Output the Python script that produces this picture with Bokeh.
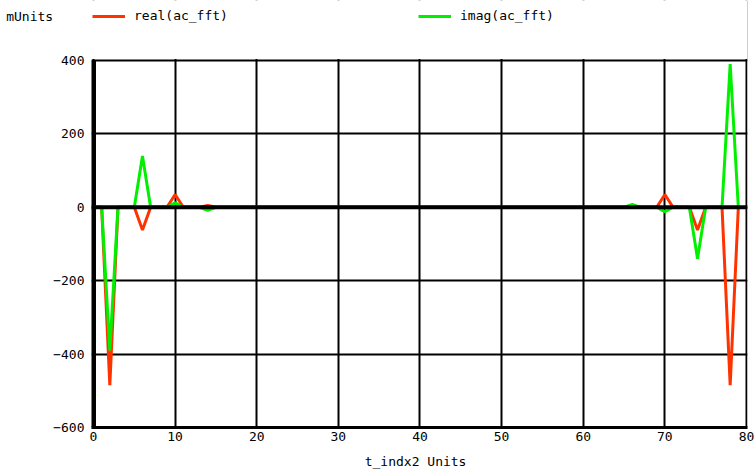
from bokeh.plotting import figure
from bokeh.models import FixedTicker, Span, Legend, LegendItem, BoxAnnotation
from bokeh.embed import file_html
from bokeh.resources import INLINE

# index 0..79
t_indx2 = list(range(80))
real_ac_fft = [0, 0, -485, 0, 0, 0, -62, 0, 0, 0,
               35, 0, 0, 0, 5, 0, 0, 0, 0, 0,
               0, 0, 0, 0, 0, 0, 0, 0, 0, 0,
               0, 0, 0, 0, 0, 0, 0, 0, 0, 0,
               0, 0, 0, 0, 0, 0, 0, 0, 0, 0,
               0, 0, 0, 0, 0, 0, 0, 0, 0, 0,
               0, 0, 0, 0, 0, 0, 5, 0, 0, 0,
               35, 0, 0, 0, -62, 0, 0, 0, -485, 0]
imag_ac_fft = [0, 0, -390, 0, 0, 0, 140, 0, 0, 0,
               12, 0, 0, 0, -8, 0, 0, 0, 0, 0,
               0, 0, 0, 0, 0, 0, 0, 0, 0, 0,
               0, 0, 0, 0, 0, 0, 0, 0, 0, 0,
               0, 0, 0, 0, 0, 0, 0, 0, 0, 0,
               0, 0, 0, 0, 0, 0, 0, 0, 0, 0,
               0, 0, 0, 0, 0, 0, 8, 0, 0, 0,
               -12, 0, 0, 0, -140, 0, 0, 0, 390, 0]
x_ticks = [0, 10, 20, 30, 40, 50, 60, 70, 80]
y_ticks = [-600, -400, -200, 0, 200, 400]
y_unit_label = "mUnits"
series_names = ["real(ac_fft)", "imag(ac_fft)"]
x_axis_label = "t_indx2  Units"

FONT = "DejaVu Sans Mono"
FS = "13px"
RED = "#ff3300"
GREEN = "#00f000"

X0, X1 = x_ticks[0], x_ticks[-1]
Y0, Y1 = y_ticks[0], y_ticks[-1]
UNIT_POS = 520  # height (in axis units) of the unit caption above the plot box

p = figure(width=755, height=473,
           x_range=(-0.245, 80.1225), y_range=(-600, 563.5),
           output_backend="svg", toolbar_location=None,
           min_border_left=91, min_border_right=8, min_border_top=0, min_border_bottom=46)
p.background_fill_color = "white"
p.border_fill_color = "white"
p.outline_line_color = None

# axes
p.xaxis.ticker = FixedTicker(ticks=x_ticks)
p.yaxis.ticker = FixedTicker(ticks=y_ticks + [UNIT_POS])
p.yaxis.major_label_overrides = {UNIT_POS: y_unit_label + "\u00a0" * 4}
for ax in (p.xaxis, p.yaxis):
    ax.major_tick_out = 0
    ax.major_tick_in = 0
    ax.minor_tick_out = 0
    ax.minor_tick_in = 0
    ax.major_label_text_font = FONT
    ax.major_label_text_font_size = FS
    ax.major_label_text_color = "black"
p.yaxis.axis_line_color = None
p.xaxis.axis_line_color = "black"
p.xaxis.axis_line_width = 3
p.yaxis.major_label_standoff = 7
p.xaxis.major_label_standoff = 4
p.xaxis.axis_label = x_axis_label
p.xaxis.axis_label_text_font = FONT
p.xaxis.axis_label_text_font_size = FS
p.xaxis.axis_label_text_font_style = "normal"
p.xaxis.axis_label_text_color = "black"
p.xaxis.axis_label_standoff = 10

# grid
p.xgrid.ticker = FixedTicker(ticks=x_ticks)
p.ygrid.ticker = FixedTicker(ticks=y_ticks)
p.grid.grid_line_color = "black"
p.grid.grid_line_width = 2
p.grid.grid_line_alpha = 1

# thick left border of the plot box (from the first x tick, bottom to top tick)
p.segment(x0=[X0], y0=[Y0], x1=[X0], y1=[Y1], line_color="black", line_width=5,
          line_cap="butt")
# thick zero line
p.add_layout(Span(location=0, dimension="width", line_color="black", line_width=4))

r_real = p.line(t_indx2, real_ac_fft, line_color=RED, line_width=3)
r_imag = p.line(t_indx2, imag_ac_fft, line_color=GREEN, line_width=3)

# blank strip above the plot box (holds the caption row)
p.add_layout(BoxAnnotation(bottom=Y1 + 4, fill_color="white", fill_alpha=1,
                           line_alpha=0))

common = dict(padding=0, margin=0, spacing=0, glyph_width=33, glyph_height=14,
              label_standoff=9, label_text_font=FONT, label_text_font_size=FS,
              label_text_color="black",
              label_height=14, border_line_alpha=0, background_fill_alpha=0)
p.add_layout(Legend(items=[LegendItem(label=series_names[0], renderers=[r_real])],
                    location=(1, 404), **common), "center")
p.add_layout(Legend(items=[LegendItem(label=series_names[1], renderers=[r_imag])],
                    location=(327, 404), **common), "center")

open("out.html", "w").write(file_html(p, INLINE))
